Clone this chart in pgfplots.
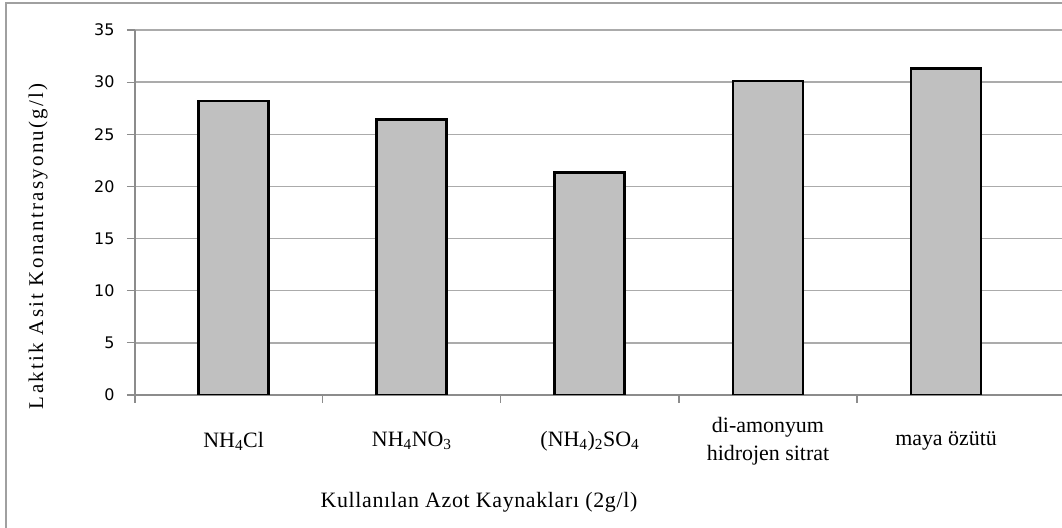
\documentclass[border=0pt]{standalone}
\usepackage{fontspec}
\setmainfont{Liberation Serif}
\newfontfamily\tickfont{DejaVu Sans}
\newfontfamily\ytitlefont[LetterSpace=11]{Liberation Serif}
\newfontfamily\xtitlefont[LetterSpace=3]{Liberation Serif}
\usepackage{pgfplots}
\pgfplotsset{compat=1.18}
\usetikzlibrary{calc}
\definecolor{barfill}{HTML}{C0C0C0}
\definecolor{gridcol}{HTML}{ABABAB}
\definecolor{axiscol}{HTML}{8C8C8C}
\definecolor{framecol}{HTML}{A0A0A0}

\begin{document}
\begin{tikzpicture}[x=1bp,y=1bp]
\begin{axis}[
  scale only axis,
  width=927bp, height=365bp,
  xmin=-0.554, xmax=4.651, ymin=0, ymax=35,
  axis lines=left,
  axis line style={-, axiscol, line width=1.2bp},
  tick align=outside,
  ytick={0,5,...,35},
  ymajorgrids, grid style={gridcol, line width=1.5bp},
  major tick length=8bp, minor tick length=8bp,
  major y tick style={axiscol, line width=1.2bp},
  xtick={0,1,2,3,4},
  major x tick style={draw=none},
  minor xtick={-0.554,0.5,1.5,2.5,3.5},
  minor x tick style={axiscol, line width=1.2bp},
  xticklabels={NH\textsubscript{4}Cl, NH\textsubscript{4}NO\textsubscript{3}, (NH\textsubscript{4})\textsubscript{2}SO\textsubscript{4}, {di-amonyum\\hidrojen sitrat}, maya özütü},
  xticklabel style={font=\fontsize{22}{28}\selectfont, align=center, anchor=center, yshift=-38bp},
  /pgf/number format/assume math mode=true,
  yticklabel style={font=\tickfont\fontsize{16}{18}\selectfont, text=black, xshift=-9bp},
  xlabel={\xtitlefont\fontsize{22}{26}\selectfont Kullanılan Azot Kaynakları (2g/l)},
  ylabel={\ytitlefont\fontsize{21}{25}\selectfont Laktik Asit Konantrasyonu(g/l)},
  every axis x label/.style={at={(axis description cs:0.371,-0.293)}, anchor=center},
  every axis y label/.style={at={(axis description cs:-0.1046,0.408)}, rotate=90, anchor=center},
]
\coordinate (O) at (rel axis cs:0,0);
\addplot[ybar, bar width=70bp, fill=barfill, draw=black, line width=2.8bp]
  coordinates {(0,28.2) (1,26.4) (2,21.3) (3,30.1) (4,31.3)};
\end{axis}
% chart frame and page extent, measured from the plot's lower left corner
\draw[framecol, line width=1.5bp] ($(O)+(-129,-160)$) -- ($(O)+(-129,392)$) -- ($(O)+(960,392)$);
\pgfresetboundingbox
\path[use as bounding box] ($(O)+(-135,-133)$) rectangle ++(1062,528);
\end{tikzpicture}
\end{document}
